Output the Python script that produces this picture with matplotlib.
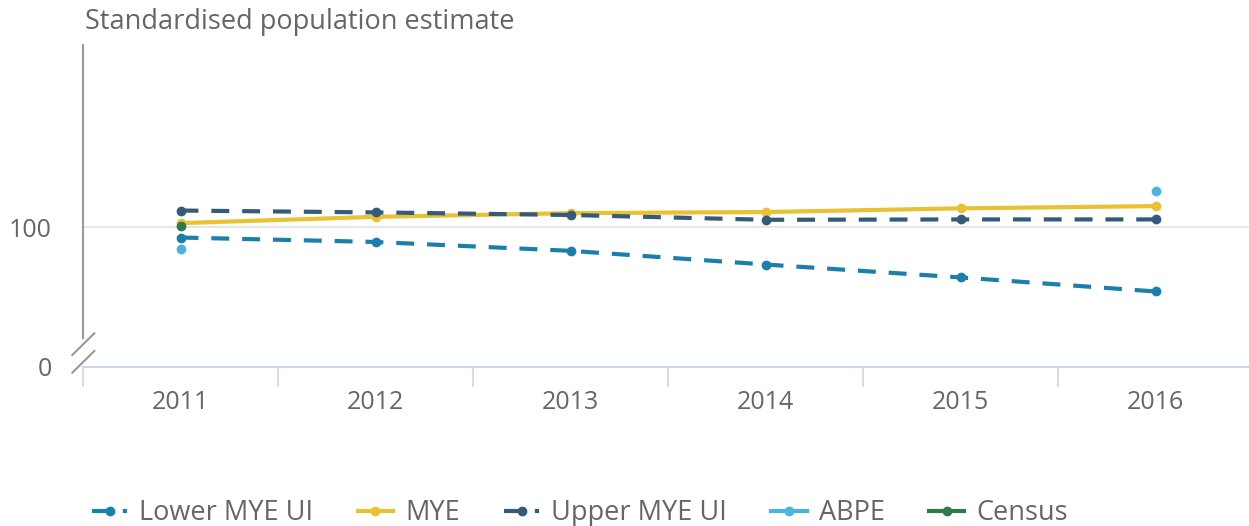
import numpy as np
import matplotlib.pyplot as plt
from matplotlib.lines import Line2D

plt.rcParams['font.family'] = ['Open Sans', 'DejaVu Sans']

# -------------------------------------------------------
# data
# -------------------------------------------------------
years = ["2011", "2012", "2013", "2014", "2015", "2016"]

lower_mye = [97.2, 96.0, 93.6, 89.9, 86.4, 82.6]
mye = [101.1, 102.8, 103.8, 104.1, 105.1, 105.7]
upper_mye = [104.5, 104.0, 103.3, 102.0, 102.1, 102.1]
abpe = [94.2, None, None, None, None, 109.9]
census = [100.2, None, None, None, None, None]

y_ticks = [0, 100]

# -------------------------------------------------------
# broken y axis (0 .. 70 squeezed)
# -------------------------------------------------------
BRK = 70.0
GAP = 7.7


def fwd(v):
    v = np.asarray(v, dtype=float)
    return np.where(v >= BRK, v - BRK + GAP, v * GAP / BRK)


def inv(u):
    u = np.asarray(u, dtype=float)
    return np.where(u >= GAP, u - GAP + BRK, u * BRK / GAP)


W, H = 1249, 526
fig = plt.figure(figsize=(W / 100, H / 100), dpi=100)
ax = fig.add_axes([83 / W, 1 - 366.5 / H, 1170 / W, (366.5 - 45) / H])
ax.set_yscale('function', functions=(fwd, inv))

x = np.arange(len(years))


def vals(a):
    return np.array([np.nan if v is None else v for v in a])


ax.plot(x, vals(lower_mye), color='#1b7fab', lw=3, ls=(0, (4.3, 3.1)),
        marker='o', ms=6, label='Lower MYE UI', zorder=3)
ax.plot(x, vals(mye), color='#e8c232', lw=3, marker='o', ms=6,
        label='MYE', zorder=4)
ax.plot(x, vals(upper_mye), color='#345a7c', lw=3, ls=(0, (4.3, 3.1)),
        marker='o', ms=6, label='Upper MYE UI', zorder=5)
ax.plot(x, vals(abpe), color='#48b5df', lw=3, marker='o', ms=6,
        label='ABPE', zorder=6)
ax.plot(x, vals(census), color='#2e7a4e', lw=3, marker='o', ms=6,
        label='Census', zorder=7)

ax.set_xlim(-0.5, len(years) - 0.5)
ax.set_ylim(0, 149.3)

# axes styling
ax.axhline(100, color='#e6e6e6', lw=1.5, zorder=1)
for s in ['top', 'right', 'left']:
    ax.spines[s].set_visible(False)
ax.spines['bottom'].set_color('#ccd6eb')
ax.spines['bottom'].set_linewidth(1.5)

ax.set_xticks(x)
ax.set_xticklabels(years)
ax.set_xticks(np.arange(-0.5, len(years)), minor=True)
ax.tick_params(axis='x', which='major', length=0, pad=17, labelsize=18,
               labelcolor='#666666')
ax.tick_params(axis='x', which='minor', length=14.5, width=1.2,
               color='#ccd6eb')

ax.set_yticks(y_ticks)
ax.set_yticks([], minor=True)
ax.set_yticklabels([str(t) for t in y_ticks])
ax.tick_params(axis='y', length=0, pad=22.5, labelsize=18, labelcolor='#666666')

# y axis line down to the break, then break marks
ax.plot([-0.5, -0.5], [70.1, 149.3], color='#999999', lw=1.5,
        clip_on=False, zorder=2)
for y0, y1 in [(355, 333.3), (372.7, 351)]:
    fig.add_artist(Line2D([72.3 / W, 94.3 / W], [1 - y0 / H, 1 - y1 / H],
                          color='#999999', lw=1.5,
                          transform=fig.transFigure))

fig.text(85 / W, 1 - 22 / H, 'Standardised population estimate',
         fontsize=19.5, color='#666666', va='center', ha='left')

fig.legend(loc='center', bbox_to_anchor=(580 / W, 1 - 513 / H), ncol=5,
           frameon=False, fontsize=19.5, labelcolor='#666666',
           handlelength=1.3, handletextpad=0.45, columnspacing=1.63,
           markerscale=1.0)

fig.savefig('out.png', dpi=100)
